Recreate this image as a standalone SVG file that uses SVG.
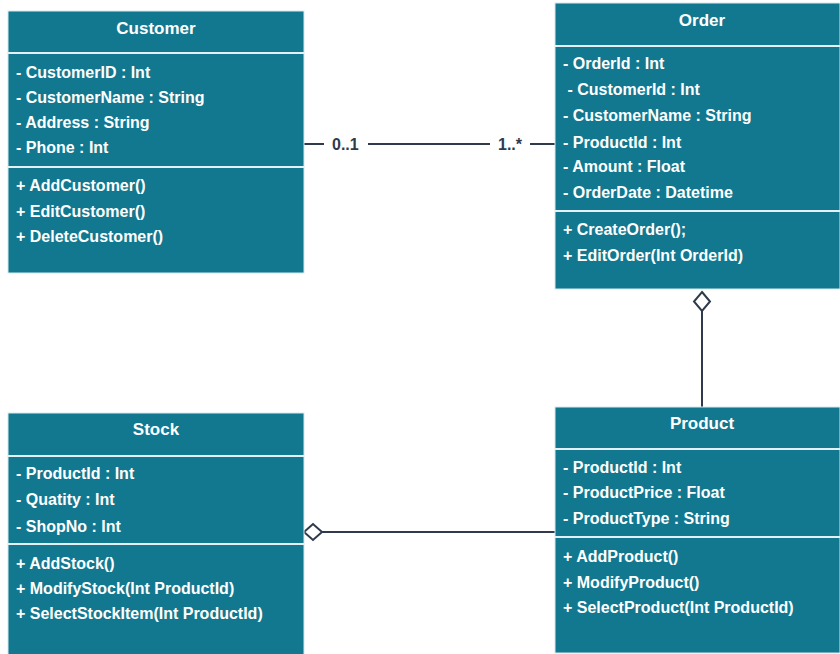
<svg xmlns="http://www.w3.org/2000/svg" width="840" height="654" viewBox="0 0 840 654">
<style>
.box{fill:#12788f;stroke:#d6eaef;stroke-width:1}
.sep{stroke:#e3f1f5;stroke-width:2}
.t{font-family:"Liberation Sans",Arial,sans-serif;font-weight:bold;fill:#ffffff}
.title{font-size:17px;text-anchor:middle}
.row{font-size:16px}
.conn{stroke:#2f3a4c;stroke-width:2;fill:none}
.lbl{font-family:"Liberation Sans",Arial,sans-serif;font-weight:bold;font-size:16px;fill:#2f3a4c}
.dia{fill:#ffffff;stroke:#2f3a4c;stroke-width:2}
</style>
<rect width="840" height="654" fill="#ffffff"/>
<g id="connectors">
  <line class="conn" x1="304" y1="144" x2="324" y2="144"/>
  <line class="conn" x1="368" y1="144" x2="490" y2="144"/>
  <line class="conn" x1="530" y1="144" x2="555" y2="144"/>
  <text class="lbl" x="332" y="150">0..1</text>
  <text class="lbl" x="498" y="150">1..*</text>
  <line class="conn" x1="702" y1="311" x2="702" y2="407"/>
  <polygon class="dia" points="702,292 710,301.5 702,311 694,301.5"/>
  <line class="conn" x1="322" y1="532" x2="555" y2="532"/>
  <polygon class="dia" points="304,532 313,524 322,532 313,540"/>
</g>
<g id="customer">
  <rect class="box" x="8" y="11" width="296" height="262"/>
  <line class="sep" x1="8" y1="53" x2="304" y2="53"/>
  <line class="sep" x1="8" y1="167" x2="304" y2="167"/>
  <text class="t title" x="156" y="34">Customer</text>
  <text class="t row" x="16" y="78">- CustomerID : Int</text>
  <text class="t row" x="16" y="103">- CustomerName : String</text>
  <text class="t row" x="16" y="128">- Address : String</text>
  <text class="t row" x="16" y="153">- Phone : Int</text>
  <text class="t row" x="16" y="191">+ AddCustomer()</text>
  <text class="t row" x="16" y="217">+ EditCustomer()</text>
  <text class="t row" x="16" y="242">+ DeleteCustomer()</text>
</g>
<g id="order">
  <rect class="box" x="555" y="3" width="285" height="286"/>
  <line class="sep" x1="555" y1="46" x2="840" y2="46"/>
  <line class="sep" x1="555" y1="211" x2="840" y2="211"/>
  <text class="t title" x="702" y="26">Order</text>
  <text class="t row" x="563" y="69">- OrderId : Int</text>
  <text class="t row" x="563" y="95" xml:space="preserve"> - CustomerId : Int</text>
  <text class="t row" x="563" y="121">- CustomerName : String</text>
  <text class="t row" x="563" y="148">- ProductId : Int</text>
  <text class="t row" x="563" y="172">- Amount : Float</text>
  <text class="t row" x="563" y="198">- OrderDate : Datetime</text>
  <text class="t row" x="563" y="235">+ CreateOrder();</text>
  <text class="t row" x="563" y="261">+ EditOrder(Int OrderId)</text>
</g>
<g id="stock">
  <rect class="box" x="8" y="413" width="296" height="250"/>
  <line class="sep" x1="8" y1="456" x2="304" y2="456"/>
  <line class="sep" x1="8" y1="544" x2="304" y2="544"/>
  <text class="t title" x="156" y="435">Stock</text>
  <text class="t row" x="16" y="479">- ProductId : Int</text>
  <text class="t row" x="16" y="505">- Quatity : Int</text>
  <text class="t row" x="16" y="532">- ShopNo : Int</text>
  <text class="t row" x="16" y="569">+ AddStock()</text>
  <text class="t row" x="16" y="594">+ ModifyStock(Int ProductId)</text>
  <text class="t row" x="16" y="619">+ SelectStockItem(Int ProductId)</text>
</g>
<g id="product">
  <rect class="box" x="555" y="407" width="285" height="246"/>
  <line class="sep" x1="555" y1="449" x2="840" y2="449"/>
  <line class="sep" x1="555" y1="537" x2="840" y2="537"/>
  <text class="t title" x="702" y="429">Product</text>
  <text class="t row" x="563" y="473">- ProductId : Int</text>
  <text class="t row" x="563" y="498">- ProductPrice : Float</text>
  <text class="t row" x="563" y="524">- ProductType : String</text>
  <text class="t row" x="563" y="562">+ AddProduct()</text>
  <text class="t row" x="563" y="588">+ ModifyProduct()</text>
  <text class="t row" x="563" y="613">+ SelectProduct(Int ProductId)</text>
</g>
</svg>
